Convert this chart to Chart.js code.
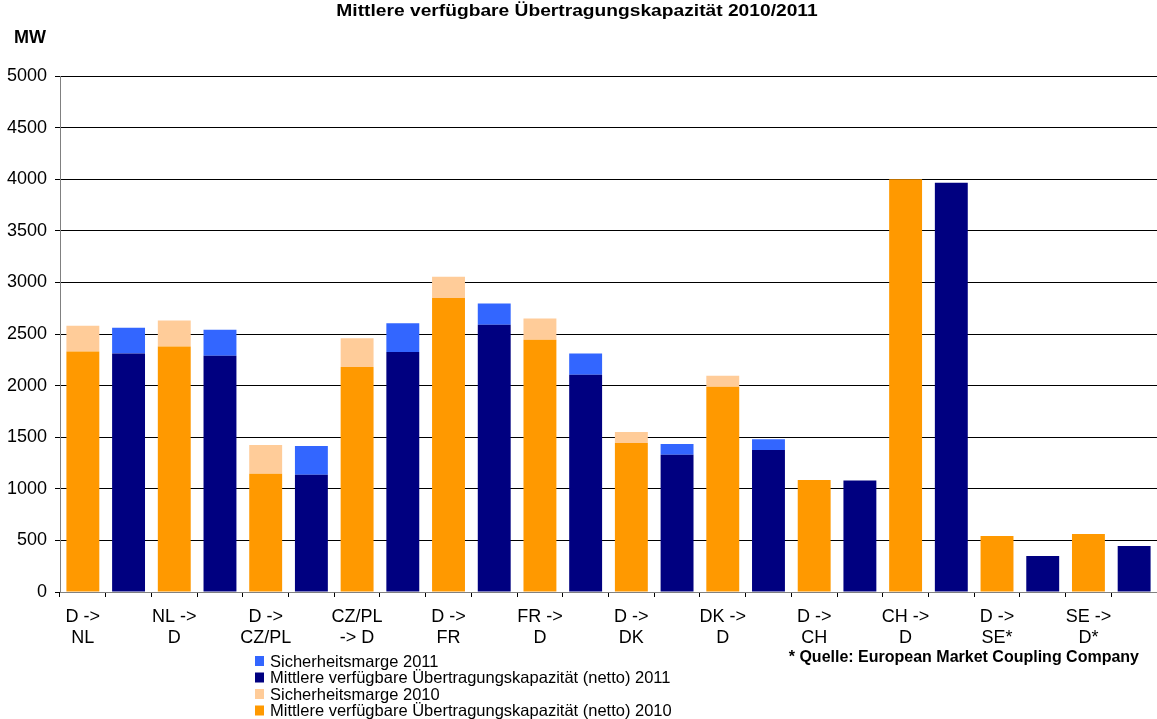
<!DOCTYPE html>
<html lang="de">

<head>
    <meta charset="UTF-8">
    <title>Mittlere verfügbare Übertragungskapazität 2010/2011</title>
    <script src="https://cdn.jsdelivr.net/npm/chart.js"></script>
    <style>
        * {
            margin: 0;
            padding: 0;
        }

        body {
            background-color: #fff;
        }

        #wrap {
            width: 1157px;
            height: 719px;
        }
    </style>
</head>

<body>
    <div id="wrap">
        <canvas id="myChart" width="1157" height="719"></canvas>
    </div>

    <script>
        // one entry per border direction
        const routes = [
            ['D ->', 'NL'], ['NL ->', 'D'], ['D ->', 'CZ/PL'], ['CZ/PL', '-> D'],
            ['D ->', 'FR'], ['FR ->', 'D'], ['D ->', 'DK'], ['DK ->', 'D'],
            ['D ->', 'CH'], ['CH ->', 'D'], ['D ->', 'SE*'], ['SE ->', 'D*']
        ];

        // MW
        const netto2010 = [2330, 2380, 1145, 2180, 2850, 2445, 1445, 1990, 1085, 4000, 543, 562];
        const marge2010 = [250, 250, 280, 280, 205, 205, 105, 105, 0, 0, 0, 0];
        const netto2011 = [2310, 2290, 1135, 2325, 2590, 2105, 1330, 1375, 1080, 3965, 349, 446];
        const marge2011 = [250, 250, 280, 280, 205, 205, 105, 105, 0, 0, 0, 0];

        const yTicks = [0, 500, 1000, 1500, 2000, 2500, 3000, 3500, 4000, 4500, 5000];

        const colNetto2010 = '#FF9900';
        const colMarge2010 = '#FFCC99';
        const colNetto2011 = '#000080';
        const colMarge2011 = '#3366FF';

        // every route gets two slots: 2010 bar, then 2011 bar
        let labels = [];
        let n10 = [], m10 = [], n11 = [], m11 = [];
        for (let i = 0; i < routes.length; i++) {
            labels.push(routes[i]);
            labels.push('');
            n10.push(netto2010[i], null);
            m10.push(marge2010[i] || null, null);
            n11.push(null, netto2011[i]);
            m11.push(null, marge2011[i] || null);
        }

        const legendItems = [
            ['Sicherheitsmarge 2011', colMarge2011],
            ['Mittlere verfügbare Übertragungskapazität (netto) 2011', colNetto2011],
            ['Sicherheitsmarge 2010', colMarge2010],
            ['Mittlere verfügbare Übertragungskapazität (netto) 2010', colNetto2010]
        ];

        const font = '"Liberation Sans", Arial, sans-serif';

        const textPlugin = {
            id: 'texts',
            afterDraw(chart) {
                const ctx = chart.ctx;
                ctx.save();
                ctx.fillStyle = '#000';
                ctx.textBaseline = 'middle';

                // title is drawn a bit wider, like the original
                ctx.save();
                ctx.translate(577, 12);
                ctx.scale(1.2, 1);
                ctx.font = 'bold 16px ' + font;
                ctx.textAlign = 'center';
                ctx.fillText('Mittlere verfügbare Übertragungskapazität 2010/2011', 0, 0);
                ctx.restore();

                ctx.font = 'bold 18px ' + font;
                ctx.textAlign = 'left';
                ctx.fillText('MW', 14, 38);

                ctx.font = 'bold 16px ' + font;
                ctx.textAlign = 'right';
                ctx.fillText('* Quelle: European Market Coupling Company', 1139, 658);

                ctx.font = '16.5px ' + font;
                ctx.textAlign = 'left';
                for (let i = 0; i < legendItems.length; i++) {
                    const y = 661 + i * 16.5;
                    ctx.fillStyle = legendItems[i][1];
                    ctx.fillRect(255, y - 5, 9, 10);
                    ctx.fillStyle = '#000';
                    ctx.fillText(legendItems[i][0], 270, y + 1);
                }
                ctx.restore();
            }
        };

        const data = {
            labels: labels,
            datasets: [
                { label: 'netto 2010', data: n10, backgroundColor: colNetto2010 },
                { label: 'marge 2010', data: m10, backgroundColor: colMarge2010 },
                { label: 'netto 2011', data: n11, backgroundColor: colNetto2011 },
                { label: 'marge 2011', data: m11, backgroundColor: colMarge2011 }
            ]
        };

        const config = {
            type: 'bar',
            data: data,
            options: {
                responsive: false,
                animation: false,
                barPercentage: 0.72,
                categoryPercentage: 1,
                layout: {
                    padding: { top: 76, left: 0, right: 0, bottom: 0 }
                },
                plugins: {
                    legend: { display: false },
                    tooltip: { enabled: false }
                },
                scales: {
                    x: {
                        stacked: true,
                        afterFit(scale) { scale.height = 127; },
                        border: { color: '#808080', width: 1 },
                        grid: {
                            offset: true,
                            drawOnChartArea: false,
                            drawTicks: true,
                            tickLength: 5,
                            color: '#000'
                        },
                        ticks: {
                            autoSkip: false,
                            maxRotation: 0,
                            padding: 9,
                            color: '#000',
                            font: { family: font, size: 18, lineHeight: 1.2 }
                        }
                    },
                    y: {
                        stacked: true,
                        min: 0,
                        max: 5000,
                        afterFit(scale) { scale.width = 60; },
                        afterBuildTicks(scale) {
                            scale.ticks = yTicks.map(v => ({ value: v }));
                        },
                        border: { color: '#808080', width: 1 },
                        grid: {
                            color: '#000',
                            lineWidth: 1,
                            tickLength: 5
                        },
                        ticks: {
                            padding: 8,
                            color: '#000',
                            font: { family: font, size: 18 },
                            callback: function (value) {
                                return String(value);
                            }
                        }
                    }
                }
            },
            plugins: [textPlugin]
        };

        const ctx = document.getElementById('myChart');
        const myChartInstance = new Chart(ctx, config);
    </script>
</body>

</html>
